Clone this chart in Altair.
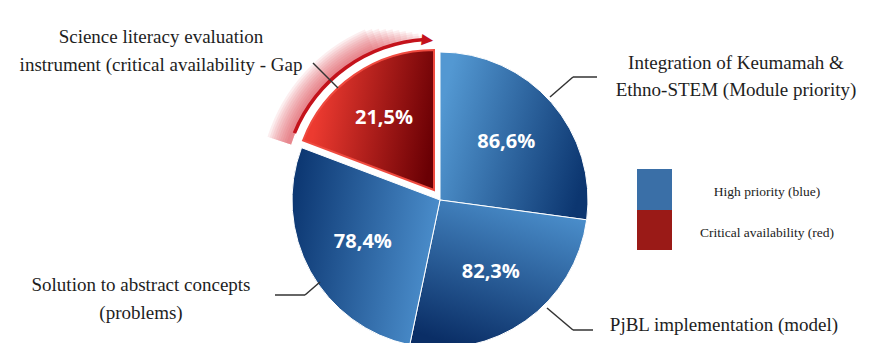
import math
import altair as alt
import pandas as pd

# ---- data ----
categories = [
    "Integration of Keumamah & Ethno-STEM (Module priority)",
    "PjBL implementation (model)",
    "Solution to abstract concepts (problems)",
    "Science literacy evaluation instrument (critical availability - Gap",
]
values = [86.6, 82.3, 78.4, 21.5]
# angular size (degrees) each slice is drawn with in the picture
slice_deg = [97.7, 94.1, 98.9, 69.3]
groups = ["High priority (blue)"] * 3 + ["Critical availability (red)"]
legend_labels = ["High priority (blue)", "Critical availability (red)"]
legend_colors = ["#3a6fa7", "#9a1a17"]

# ---- layout (chart pixel space) ----
W, H = 872, 335
CX, CY = 432, 192          # pie centre
RX, RY = 426, 182          # exploded red slice apex
R_BLUE, R_RED = 148, 140
SERIF = "Liberation Serif, Times New Roman, serif"

df = pd.DataFrame({"idx": range(4), "category": categories, "value": values,
                   "deg": slice_deg, "group": groups})
df["end"] = df["deg"].cumsum()
df["start"] = df["end"] - df["deg"]
df["mid"] = (df["start"] + df["end"]) / 2
df["label"] = [f"{v:.1f}".replace(".", ",") + "%" for v in values]

red = df[df["idx"] == 3].iloc[0]
NB = 10
arrow = {"a0": [red["start"] + 1.5], "a1": [red["end"] - 3.5],
         "g0": [red["start"] - 3], "tip": [red["end"] - 2.5]}
for k in range(NB):
    arrow[f"e{k}"] = [red["end"] - 3.5 - 2.2 * k]
arrow_df = pd.DataFrame(arrow)

theta_scale = alt.Scale(domain=[0, 360], range=[0, 2 * math.pi])
xs = alt.Scale(domain=[0, W], range=[0, W], nice=False, zero=False)
ys = alt.Scale(domain=[0, H], range=[0, H], nice=False, zero=False)


def grad(c0, c1, x1, y1, x2, y2):
    return alt.Gradient(gradient="linear",
                        stops=[alt.GradientStop(color=c0, offset=0),
                               alt.GradientStop(color=c1, offset=1)],
                        x1=x1, y1=y1, x2=x2, y2=y2)


grads = [
    grad("#5398d2", "#0c3670", 0, 0.35, 1, 0.65),
    grad("#4b8fcc", "#0a2e66", 0.7, 0, 0.3, 1),
    grad("#4d91cf", "#0d3873", 1, 0.55, 0, 0.35),
]
red_grad = grad("#ec3a30", "#6a0004", 0.1, 0.45, 1, 0.6)

layers = []
# soft glow around arrow: nested bands, outer ones shorter -> fades outward & upward
for k in range(NB):
    layers.append(
        alt.Chart(arrow_df).mark_arc(innerRadius=150, radius=155 + 2.2 * k,
                                     color="#dc3a44", opacity=0.085)
        .encode(theta=alt.Theta("g0:Q", scale=theta_scale), theta2=f"e{k}:Q",
                x=alt.value(RX), y=alt.value(RY)))
# white gap between arc and slice
layers.append(
    alt.Chart(arrow_df).mark_arc(innerRadius=R_RED, radius=149, color="white")
    .encode(theta=alt.Theta("g0:Q", scale=theta_scale), theta2="a1:Q",
            x=alt.value(RX), y=alt.value(RY)))
# arrow arc line
layers.append(
    alt.Chart(arrow_df).mark_arc(innerRadius=149, radius=152.5, color="#c4121b")
    .encode(theta=alt.Theta("a0:Q", scale=theta_scale), theta2="a1:Q",
            x=alt.value(RX), y=alt.value(RY)))
layers.append(
    alt.Chart(arrow_df).mark_text(text="▶", radius=151, fontSize=15, angle=6,
                                  color="#c4121b", font="DejaVu Sans",
                                  align="center", baseline="middle")
    .encode(theta=alt.Theta("tip:Q", scale=theta_scale),
            x=alt.value(RX), y=alt.value(RY)))

# blue slices
for i in range(3):
    layers.append(
        alt.Chart(df).transform_filter(alt.datum.idx == i)
        .mark_arc(radius=R_BLUE, fill=grads[i], stroke="white", strokeWidth=1)
        .encode(theta=alt.Theta("start:Q", scale=theta_scale), theta2="end:Q",
                x=alt.value(CX), y=alt.value(CY),
                tooltip=["category:N", "value:Q"]))
# red slice (exploded)
layers.append(
    alt.Chart(df).transform_filter(alt.datum.idx == 3)
    .mark_arc(radius=R_RED, fill=red_grad, stroke="#ef4a3f", strokeWidth=2)
    .encode(theta=alt.Theta("start:Q", scale=theta_scale), theta2="end:Q",
            x=alt.value(RX), y=alt.value(RY),
            tooltip=["category:N", "value:Q"]))

# value labels
label_style = dict(radius=88, fontSize=20, fontWeight="bold", font="Open Sans",
                   color="white", align="center", baseline="middle")
layers.append(
    alt.Chart(df).transform_filter(alt.datum.idx < 3).mark_text(**label_style)
    .encode(theta=alt.Theta("mid:Q", scale=theta_scale), text="label:N",
            x=alt.value(CX), y=alt.value(CY)))
layers.append(
    alt.Chart(df).transform_filter(alt.datum.idx == 3).mark_text(**label_style)
    .encode(theta=alt.Theta("mid:Q", scale=theta_scale), text="label:N",
            x=alt.value(RX), y=alt.value(RY)))

# leader lines
seg = pd.DataFrame({
    "x": [305, 542, 565, 312, 297, 539, 565],
    "y": [55, 89, 69, 274, 287, 300, 322],
    "x2": [330, 565, 589, 297, 267, 565, 585],
    "y2": [80, 69, 69, 287, 287, 322, 322],
})
layers.append(
    alt.Chart(seg).mark_rule(color="#333333", strokeWidth=1.5)
    .encode(x=alt.X("x:Q", scale=xs, axis=None), y=alt.Y("y:Q", scale=ys, axis=None),
            x2="x2:Q", y2="y2:Q"))

# callout texts
ann = pd.DataFrame({
    "text": ["Science literacy evaluation", "instrument (critical availability - Gap",
             "Integration of Keumamah &", "Ethno-STEM (Module priority)",
             "Solution to abstract concepts", "(problems)",
             "PjBL implementation (model)"],
    "x": [153, 153, 728, 728, 133, 133, 716],
    "y": [29, 57, 55, 82, 277, 305, 317],
})
layers.append(
    alt.Chart(ann).mark_text(font=SERIF, fontSize=19, color="#1e1e1e",
                             align="center", baseline="middle")
    .encode(x=alt.X("x:Q", scale=xs, axis=None), y=alt.Y("y:Q", scale=ys, axis=None),
            text="text:N"))

# legend
leg = pd.DataFrame({"label": legend_labels, "color": legend_colors,
                    "x": [629, 629], "x2": [664, 664], "y": [161, 202], "y2": [202, 242],
                    "tx": [759, 759], "ty": [184, 225]})
layers.append(
    alt.Chart(leg).mark_rect()
    .encode(x=alt.X("x:Q", scale=xs, axis=None), x2="x2:Q",
            y=alt.Y("y:Q", scale=ys, axis=None), y2="y2:Q",
            color=alt.Color("color:N", scale=None)))
layers.append(
    alt.Chart(leg).mark_text(font=SERIF, fontSize=13.5, color="#222222",
                             align="center", baseline="middle")
    .encode(x=alt.X("tx:Q", scale=xs, axis=None), y=alt.Y("ty:Q", scale=ys, axis=None),
            text="label:N"))

chart = alt.layer(*layers).properties(
    width=W, height=H, padding=0, autosize="none", background="white"
).configure_view(stroke=None)

chart.save("out.html", embed_options={"renderer": "svg", "actions": False})
